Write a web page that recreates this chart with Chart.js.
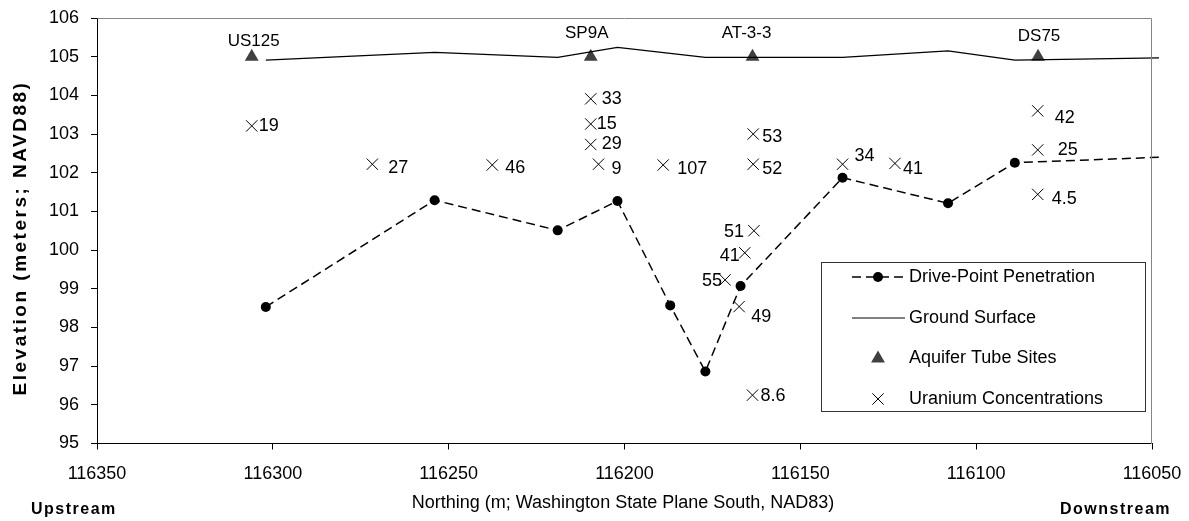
<!DOCTYPE html>
<html>
<head>
<meta charset="utf-8">
<script src="https://cdn.jsdelivr.net/npm/chart.js@4/dist/chart.umd.min.js"></script>
<style>
  html, body { margin: 0; padding: 0; background: #fff; }
  #wrap { width: 1189px; height: 521px; }
</style>
</head>
<body>
<div id="wrap"><canvas id="chart" width="1189" height="521"></canvas></div>
<script>
// --- data ---
const driveNorthing = [116302, 116254, 116219, 116202, 116187, 116177, 116167, 116138, 116108, 116089, 116048];
const driveElev     = [98.53, 101.29, 100.51, 101.27, 98.57, 96.86, 99.07, 101.87, 101.21, 102.26, 102.40];

const groundNorthing = [116302, 116254, 116219, 116202, 116177, 116138, 116108, 116089, 116048];
const groundElev     = [104.91, 105.11, 104.98, 105.24, 104.98, 104.98, 105.15, 104.91, 104.97];

const siteNames    = ['US125', 'SP9A', 'AT-3-3', 'DS75'];
const siteNorthing = [116306, 116209.6, 116163.6, 116082.4];
const siteElev     = [105, 105, 105, 105];

const uraniumNorthing = [116306, 116271.7, 116237.6, 116209.6, 116209.6, 116209.6, 116207.4, 116189,
                         116163.4, 116163.4, 116163.2, 116165.8, 116171.4, 116167.4, 116163.6,
                         116138, 116123.1, 116082.5, 116082.5, 116082.5];
const uraniumElev     = [103.21, 102.22, 102.2, 103.91, 103.26, 102.73, 102.22, 102.2,
                         103.0, 102.22, 100.5, 99.93, 99.23, 98.54, 96.25,
                         102.22, 102.24, 103.6, 102.59, 101.44];
const uraniumText     = ['19', '27', '46', '33', '15', '29', '9', '107',
                         '53', '52', '51', '41', '55', '49', '8.6',
                         '34', '41', '42', '25', '4.5'];

const xTicks = [116350, 116300, 116250, 116200, 116150, 116100, 116050];

// label placement (styling only): [dx, dy, align]
const siteLabelOffset = [[2, -15], [-4, -23], [-6, -23], [1, -20]];
const uraniumLabelOffset = [
  [7, 0, 'left'], [16, 4, 'left'], [13, 3, 'left'], [11, 0, 'left'], [6, 0, 'left'], [11, 0, 'left'],
  [13, 5, 'left'], [14, 4, 'left'], [9, 3, 'left'], [9, 5, 'left'], [-10, 1, 'right'], [-5, 3, 'right'],
  [-3, 1, 'right'], [12, 10, 'left'], [8, 1, 'left'], [12, -8, 'left'], [8, 6, 'left'], [17, 7, 'left'],
  [20, 0, 'left'], [14, 5, 'left']
];

const FONT = "'Liberation Sans', Arial, sans-serif";

function pts(xs, ys) {
  return xs.map((x, i) => ({ x, y: ys[i] }));
}

function drawMarker(ctx, style, x, y, r) {
  ctx.beginPath();
  if (style === 'circle') {
    ctx.arc(x, y, r, 0, Math.PI * 2);
    ctx.fill();
  } else if (style === 'triangle') {
    const h = r * 1.5, w = r * Math.sqrt(3);
    ctx.moveTo(x, y - r);
    ctx.lineTo(x + w / 2, y + h - r);
    ctx.lineTo(x - w / 2, y + h - r);
    ctx.closePath();
    ctx.fill();
  } else if (style === 'crossRot') {
    const o = r * Math.SQRT1_2;
    ctx.moveTo(x - o, y - o); ctx.lineTo(x + o, y + o);
    ctx.moveTo(x + o, y - o); ctx.lineTo(x - o, y + o);
    ctx.stroke();
  }
}

const extras = {
  id: 'extras',
  afterDatasetsDraw(chart) {
    const { ctx, chartArea: a, scales: { x, y } } = chart;
    ctx.save();

    // grey frame on top and right
    ctx.strokeStyle = '#868686';
    ctx.lineWidth = 1;
    ctx.beginPath();
    ctx.moveTo(Math.round(a.left) + 0.5, Math.round(a.top) + 0.5);
    ctx.lineTo(Math.round(a.right) - 0.5, Math.round(a.top) + 0.5);
    ctx.lineTo(Math.round(a.right) - 0.5, Math.round(a.bottom));
    ctx.stroke();

    ctx.fillStyle = '#000';
    ctx.textBaseline = 'middle';

    // site names
    ctx.font = '17px ' + FONT;
    ctx.textAlign = 'center';
    siteNames.forEach((s, i) => {
      const px = x.getPixelForValue(siteNorthing[i]);
      const py = y.getPixelForValue(siteElev[i]);
      ctx.fillText(s, px + siteLabelOffset[i][0], py + siteLabelOffset[i][1]);
    });

    // uranium values
    ctx.font = '18px ' + FONT;
    uraniumText.forEach((t, i) => {
      const px = x.getPixelForValue(uraniumNorthing[i]);
      const py = y.getPixelForValue(uraniumElev[i]);
      const [dx, dy, al] = uraniumLabelOffset[i];
      ctx.textAlign = al;
      ctx.fillText(t, px + dx, py + dy);
    });

    // legend
    const box = { l: 821.5, t: 262.5, r: 1145.5, b: 411.5 };
    ctx.fillStyle = '#fff';
    ctx.fillRect(box.l, box.t, box.r - box.l, box.b - box.t);
    ctx.strokeStyle = '#333';
    ctx.strokeRect(box.l, box.t, box.r - box.l, box.b - box.t);
    const rows = [277, 318, 358.5, 399];
    ctx.font = '18px ' + FONT;
    ctx.textAlign = 'left';
    chart.data.datasets.forEach((ds, i) => {
      const ry = rows[i];
      ctx.strokeStyle = ds.borderColor;
      ctx.fillStyle = ds.pointBackgroundColor || ds.borderColor;
      if (ds.showLine) {
        ctx.lineWidth = ds.borderWidth;
        ctx.setLineDash(ds.borderDash || []);
        ctx.beginPath();
        ctx.moveTo(852, ry);
        ctx.lineTo(905, ry);
        ctx.stroke();
        ctx.setLineDash([]);
      }
      if (ds.legendMarker) {
        ctx.lineWidth = 1;
        drawMarker(ctx, ds.pointStyle, 878, ry, ds.legendMarker);
      }
      ctx.fillStyle = '#000';
      ctx.fillText(ds.label, 909, ry);
    });

    ctx.restore();
  },
  afterDraw(chart) {
    const { ctx } = chart;
    ctx.save();
    ctx.fillStyle = '#000';
    ctx.textBaseline = 'middle';
    ctx.textAlign = 'center';

    ctx.font = '18px ' + FONT;
    ctx.fillText('Northing (m; Washington State Plane South, NAD83)', 623, 503);

    ctx.font = 'bold 16px ' + FONT;
    ctx.letterSpacing = '1.5px';
    ctx.textAlign = 'left';
    ctx.fillText('Upstream', 31, 510);
    ctx.textAlign = 'right';
    ctx.fillText('Downstream', 1171, 510);

    ctx.translate(21, 238);
    ctx.rotate(-Math.PI / 2);
    ctx.textAlign = 'center';
    ctx.font = 'bold 19px ' + FONT;
    ctx.letterSpacing = '2.5px';
    ctx.fillText('Elevation (meters; NAVD88)', 0, 0);
    ctx.restore();
  }
};

new Chart(document.getElementById('chart'), {
  type: 'scatter',
  data: {
    datasets: [
      {
        label: 'Drive-Point Penetration',
        data: pts(driveNorthing, driveElev),
        showLine: true,
        borderColor: '#000',
        borderWidth: 1.5,
        borderDash: [9, 5],
        pointStyle: 'circle',
        pointBackgroundColor: '#000',
        pointBorderColor: '#000',
        pointRadius: driveNorthing.map((_, i) => i === driveNorthing.length - 1 ? 0 : 5),
        pointBorderWidth: 0,
        legendMarker: 5,
        clip: false
      },
      {
        label: 'Ground Surface',
        data: pts(groundNorthing, groundElev),
        showLine: true,
        borderColor: '#000',
        borderWidth: 1.2,
        pointRadius: 0,
        clip: false
      },
      {
        label: 'Aquifer Tube Sites',
        data: pts(siteNorthing, siteElev),
        showLine: false,
        pointStyle: 'triangle',
        pointRadius: 8,
        borderColor: '#404040',
        pointBackgroundColor: '#404040',
        pointBorderColor: '#404040',
        pointBorderWidth: 0,
        legendMarker: 8
      },
      {
        label: 'Uranium Concentrations',
        data: pts(uraniumNorthing, uraniumElev),
        showLine: false,
        pointStyle: 'crossRot',
        pointRadius: 8,
        borderColor: '#000',
        pointBorderColor: '#000',
        pointBorderWidth: 1,
        legendMarker: 8
      }
    ]
  },
  options: {
    responsive: false,
    animation: false,
    events: [],
    layout: { padding: { left: 0, top: 18, right: 37, bottom: 0 } },
    plugins: {
      legend: { display: false },
      tooltip: { enabled: false }
    },
    scales: {
      x: {
        type: 'linear',
        reverse: true,
        min: 116050,
        max: 116350,
        afterBuildTicks: s => { s.ticks = xTicks.map(v => ({ value: v })); },
        afterFit: s => { s.height = 77.5; s.paddingLeft = 0; s.paddingRight = 0; },
        ticks: {
          color: '#000',
          font: { family: FONT, size: 18 },
          padding: 14,
          maxRotation: 0,
          callback: v => String(v)
        },
        grid: { display: true, drawOnChartArea: false, drawTicks: true, tickLength: 6, tickColor: '#000' },
        border: { display: true, color: '#000', width: 1 }
      },
      y: {
        min: 95,
        max: 106,
        afterFit: s => { s.width = 97; s.paddingTop = 0; s.paddingBottom = 0; },
        ticks: {
          stepSize: 1,
          color: '#000',
          font: { family: FONT, size: 18 },
          padding: 12,
          callback: v => String(v)
        },
        grid: { display: true, drawOnChartArea: false, drawTicks: true, tickLength: 6, tickColor: '#000' },
        border: { display: true, color: '#000', width: 1 }
      }
    }
  },
  plugins: [extras]
});
</script>
</body>
</html>
